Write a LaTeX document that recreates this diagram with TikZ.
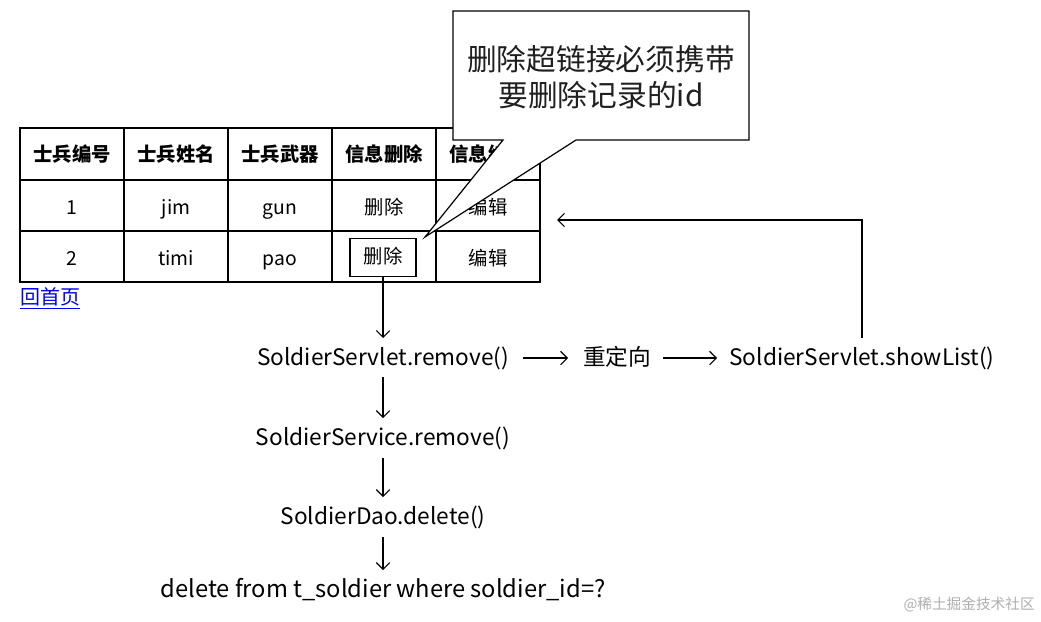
\documentclass[tikz,border=0pt]{standalone}
\usepackage{fontspec}
\setmainfont{Noto Sans CJK SC}
\usetikzlibrary{arrows.meta}
\definecolor{linkblue}{RGB}{0,0,238}
\definecolor{wm}{RGB}{175,175,175}
\tikzset{
  grid/.style={draw=black, line width=0.9pt},
  cell/.style={inner sep=0pt, text height=0.8em, text depth=0.2em, yshift=-2.25pt, font=\fontsize{14.5pt}{17pt}\selectfont},
  head/.style={inner sep=0pt, text height=0.8em, text depth=0.2em, yshift=-1.5pt, font=\fontsize{14.5pt}{17pt}\selectfont\bfseries},
  flow/.style={inner sep=0pt, text height=0.8em, text depth=0.2em, yshift=-2.6pt, font=\fontsize{17pt}{20pt}\selectfont},
  arr/.style={draw=black, line width=0.8pt, -{Straight Barb[length=5pt,width=10pt]}},
  calloutbox/.style={draw=black, fill=white, line width=0.9pt},
  delbox/.style={inner sep=0pt, text height=0.95em, text depth=0.05em, draw=black, line width=0.9pt, minimum width=49.5pt, minimum height=28pt, font=\fontsize{14.5pt}{17pt}\selectfont},
}
\begin{document}
\begin{tikzpicture}[x=0.75pt,y=-0.75pt]
\useasboundingbox (0,0) rectangle (1041,621);
\fill[white] (0,0) rectangle (1041,621);
% table grid
\draw[grid] (20,128) rectangle (540,282);
\draw[grid] (20,180) -- (540,180);
\draw[grid] (20,231) -- (540,231);
\foreach \x in {124,228,332,436} \draw[grid] (\x,128) -- (\x,282);
% header
\node[head] (h1) at (72,155) {士兵编号};
\node[head] (h2) at (176,155) {士兵姓名};
\node[head] (h3) at (280,155) {士兵武器};
\node[head] (h4) at (384,155) {信息删除};
\node[head] (h5) at (488,155) {信息编辑};
% row 1
\node[cell] (r11) at (72,207) {1};
\node[cell] (r12) at (176,207) {jim};
\node[cell] (r13) at (280,207) {gun};
\node[cell] (r14) at (384,207) {删除};
\node[cell] (r15) at (488,207) {编辑};
% row 2
\node[cell] (r21) at (72,258) {2};
\node[cell] (r22) at (176,258) {timi};
\node[cell] (r23) at (280,258) {pao};
\node[delbox] (del) at (383,257.5) {删除};
\node[cell] (r25) at (488,258) {编辑};
% link
\node[inner sep=0pt, anchor=west, text=linkblue, font=\fontsize{15pt}{17pt}\selectfont] (home) at (20,298) {\underline{回首页}};
% callout
\draw[calloutbox] (453,11) -- (749,11) -- (749,140) -- (576,140) -- (425,237) -- (503,140) -- (453,140) -- cycle;
\node[align=center, inner sep=0pt, text=black!88, font=\fontsize{22.3pt}{26.5pt}\selectfont] (note) at (601,77) {删除超链接必须携带\\要删除记录的id};
% flow
\node[flow] (sr) at (383,358) {SoldierServlet.remove()};
\node[flow] (redir) at (617,358) {重定向};
\node[flow] (show) at (862,358) {SoldierServlet.showList()};
\node[flow] (svc) at (383,438) {SoldierService.remove()};
\node[flow] (dao) at (383,517) {SoldierDao.delete()};
\node[flow, font=\fontsize{17.8pt}{20pt}\selectfont] (sql) at (383,590) {delete from t\_soldier where soldier\_id=?};
\coordinate (ret) at (557,220);
\draw[arr] (del.south) -- (383,338);
\draw[arr] (383,377) -- (383,418);
\draw[arr] (383,458) -- (383,497);
\draw[arr] (383,537) -- (383,570);
\draw[arr] (523,358) -- (568,358);
\draw[arr] (663,358) -- (717,358);
\draw[arr] (862,338) |- (ret);
% watermark
\node[inner sep=0pt, anchor=east, text=wm, font=\fontsize{11pt}{13pt}\selectfont] (wmk) at (1035,605) {@稀土掘金技术社区};
\end{tikzpicture}
\end{document}
